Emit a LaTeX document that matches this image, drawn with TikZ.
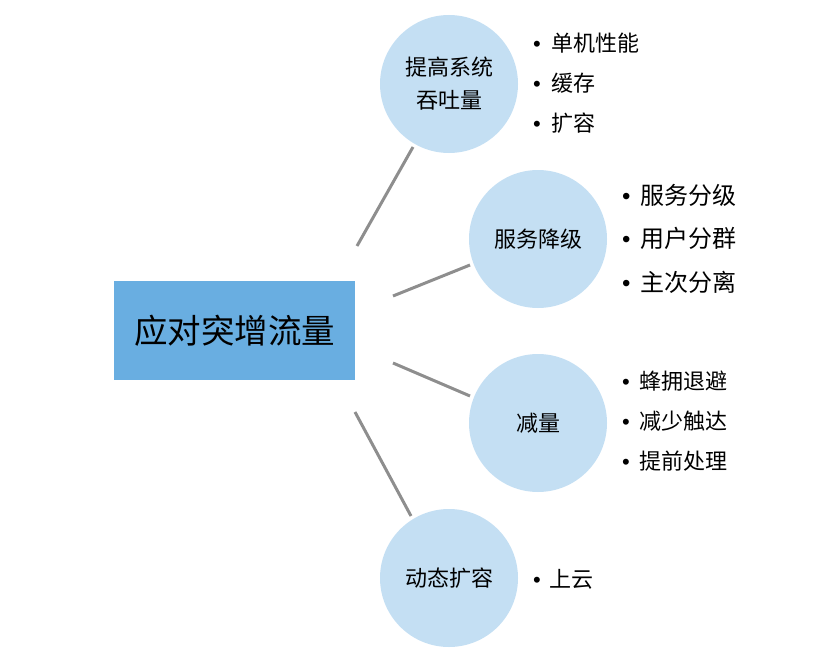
\documentclass[tikz,border=0pt]{standalone}
\usepackage{fontspec}
\setmainfont{Noto Sans CJK SC}
\newfontfamily\bulletfont{Liberation Sans}
\newcommand{\bul}{{\bulletfont •}}
\definecolor{rectblue}{HTML}{69AEE1}
\definecolor{circblue}{HTML}{C4DFF3}
\definecolor{linegray}{HTML}{8E8E8E}
\begin{document}
\begin{tikzpicture}[x=1pt,y=-1pt,
  topic/.style={circle,fill=circblue,minimum size=138pt,inner sep=0pt,align=center,font=\fontsize{22}{33}\selectfont},
  item/.style={anchor=west,inner sep=0pt,font=\fontsize{22}{24}\selectfont},
  itembig/.style={anchor=west,inner sep=0pt,font=\fontsize{24}{26}\selectfont},
  link/.style={draw=linegray,line width=3pt}]
\useasboundingbox (0,0) rectangle (832,658);
\node[fill=rectblue,minimum width=241pt,minimum height=99pt,inner sep=0pt,font=\fontsize{33.5}{36}\selectfont] (root) at (234.5,330.5) {应对突增流量};
\node[topic] (c1) at (449,84) {提高系统\\吞吐量};
\node[topic] (c2) at (538,239) {服务降级};
\node[topic] (c3) at (538,423) {减量};
\node[topic] (c4) at (449,578) {动态扩容};
\coordinate (r1) at (357,246);
\coordinate (e1) at (413,147);
\coordinate (r2) at (393,296);
\coordinate (e2) at (470,265);
\coordinate (r3) at (393,363);
\coordinate (e3) at (470,396);
\coordinate (r4) at (355,412);
\coordinate (e4) at (411,516);
\draw[link] (r1) -- (e1);
\draw[link] (r2) -- (e2);
\draw[link] (r3) -- (e3);
\draw[link] (r4) -- (e4);
\node[item] (a1) at (533,43) {\bul\hspace{11pt}单机性能};
\node[item] (a2) at (533,83) {\bul\hspace{11pt}缓存};
\node[item] (a3) at (533,123) {\bul\hspace{11pt}扩容};
\node[itembig] (b1) at (622,195) {\bul\hspace{10pt}服务分级};
\node[itembig] (b2) at (622,238) {\bul\hspace{10pt}用户分群};
\node[itembig] (b3) at (622,282) {\bul\hspace{10pt}主次分离};
\node[item] (d1) at (622,381) {\bul\hspace{10pt}蜂拥退避};
\node[item] (d2) at (622,421) {\bul\hspace{10pt}减少触达};
\node[item] (d3) at (622,461) {\bul\hspace{10pt}提前处理};
\node[item] (f1) at (533,579) {\bul\hspace{9pt}上云};
\end{tikzpicture}
\end{document}
